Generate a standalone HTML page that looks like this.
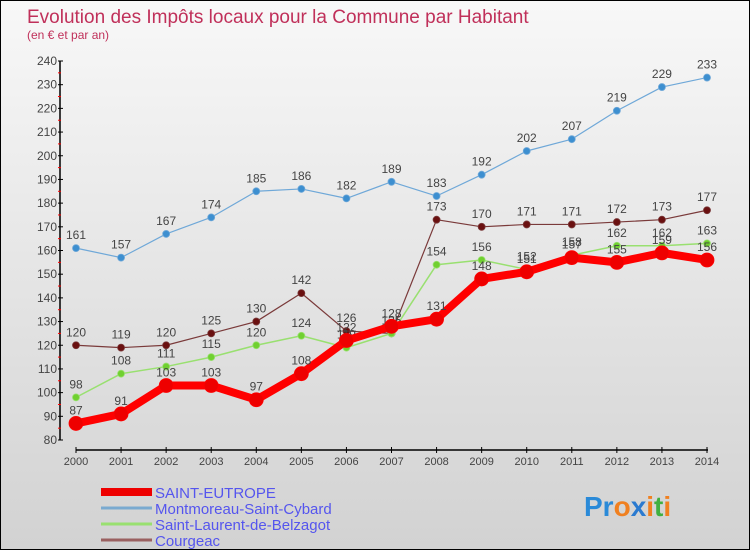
<!DOCTYPE html>
<html><head><meta charset="utf-8"><style>
body{margin:0;width:750px;height:550px;overflow:hidden;font-family:"Liberation Sans",sans-serif}
#wrap{position:absolute;left:0;top:0;width:748px;height:548px;border:1px solid #000;background:linear-gradient(#f8f8f8,#d2d2d2)}
</style></head><body>
<div id="wrap">
<svg id="c" width="748" height="548">
<text x="26" y="22" font-size="19" fill="#c0305a">Evolution des Impôts locaux pour la Commune par Habitant</text>
<text x="26" y="38" font-size="12" fill="#c0305a">(en € et par an)</text>
</svg>
</div>
<script>
const years=[2000,2001,2002,2003,2004,2005,2006,2007,2008,2009,2010,2011,2012,2013,2014];
const yTicks=[80,90,100,110,120,130,140,150,160,170,180,190,200,210,220,230,240];
const stEutrope=[87,91,103,103,97,108,122,128,131,148,151,157,155,159,156];
const montmoreau=[161,157,167,174,185,186,182,189,183,192,202,207,219,229,233];
const stLaurent=[98,108,111,115,120,124,119,125,154,156,152,158,162,162,163];
const courgeac=[120,119,120,125,130,142,126,125,173,170,171,171,172,173,177];
const svg=document.getElementById('c');
const NS='http://www.w3.org/2000/svg';
function xs(i){return 75+i*(631/14);}
function ys(v){return 60+(240-v)*(379/160);}
function mk(t,a,p){const e=document.createElementNS(NS,t);for(const k in a)e.setAttribute(k,a[k]);(p||svg).appendChild(e);return e;}
// axes
const ax=mk('line',{x1:59,y1:ys(240),x2:59,y2:ys(80),stroke:'#000','stroke-width':1.5});


const bx=mk('line',{x1:75,y1:449,x2:707,y2:449,stroke:'#000','stroke-width':1.5});


yTicks.forEach(v=>{
 mk('line',{x1:57,y1:ys(v),x2:62,y2:ys(v),stroke:'#000'});
 if(v<240) mk('line',{x1:57,y1:ys(v+5),x2:60,y2:ys(v+5),stroke:'#f00'});
 const t=mk('text',{x:56,y:ys(v)+4,'text-anchor':'end','font-size':12,fill:'#444'});
 t.textContent=v;
 
 
});
years.forEach((y,i)=>{
 mk('line',{x1:xs(i),y1:446,x2:xs(i),y2:452,stroke:'#000'});
 const t=mk('text',{x:xs(i),y:464,'text-anchor':'middle','font-size':11,fill:'#444'});
 t.textContent=y;
 
 
});
function series(data,color,w,r,name,dot){
 const g=mk('g',{});
 
 
 mk('polyline',{points:data.map((v,i)=>xs(i)+','+ys(v)).join(' '),fill:'none',stroke:color,'stroke-width':w,'stroke-linejoin':'round'},g);
 data.forEach((v,i)=>{
  const c=mk('circle',{cx:xs(i),cy:ys(v),r:r,fill:dot,stroke:color,'stroke-width':0.8},g);
  
  
  const t=mk('text',{x:xs(i),y:ys(v)-9,'text-anchor':'middle','font-size':12,fill:'#444'},g);
  t.textContent=v;
  
  
 });
}
series(montmoreau,'#6fa8d8',1.2,3.5,'montmoreau','#3d8fd0');
series(courgeac,'#7a3a3a',1.2,3.5,'courgeac','#6a1010');
series(stLaurent,'#99e070',1.5,3.5,'saint-laurent','#70d030');
series(stEutrope,'#ff0000',8,7,'saint-eutrope','#ee0000');
// legend
const leg=[['SAINT-EUTROPE','#ee0000',8],['Montmoreau-Saint-Cybard','#7aaad0',3],['Saint-Laurent-de-Belzagot','#99e070',3],['Courgeac','#9a6060',3]];
leg.forEach((l,i)=>{
 const y=491+i*16;
 const g=mk('g',{});
 
 
 mk('line',{x1:100,y1:y,x2:151,y2:y,stroke:l[1],'stroke-width':l[2]},g);
 const t=mk('text',{x:154,y:y+6,'font-size':15,fill:'#5555ee'},g);
 t.textContent=l[0];
});
const p=mk('text',{x:583,y:515,'font-size':28,'font-weight':'bold'});


p.innerHTML='<tspan fill="#2a8ad8">Pr</tspan><tspan fill="#f08020">o</tspan><tspan fill="#2a7ad0">x</tspan><tspan fill="#f08020">i</tspan><tspan fill="#40b040">t</tspan><tspan fill="#f08020">i</tspan>';
</script>
</body></html>
